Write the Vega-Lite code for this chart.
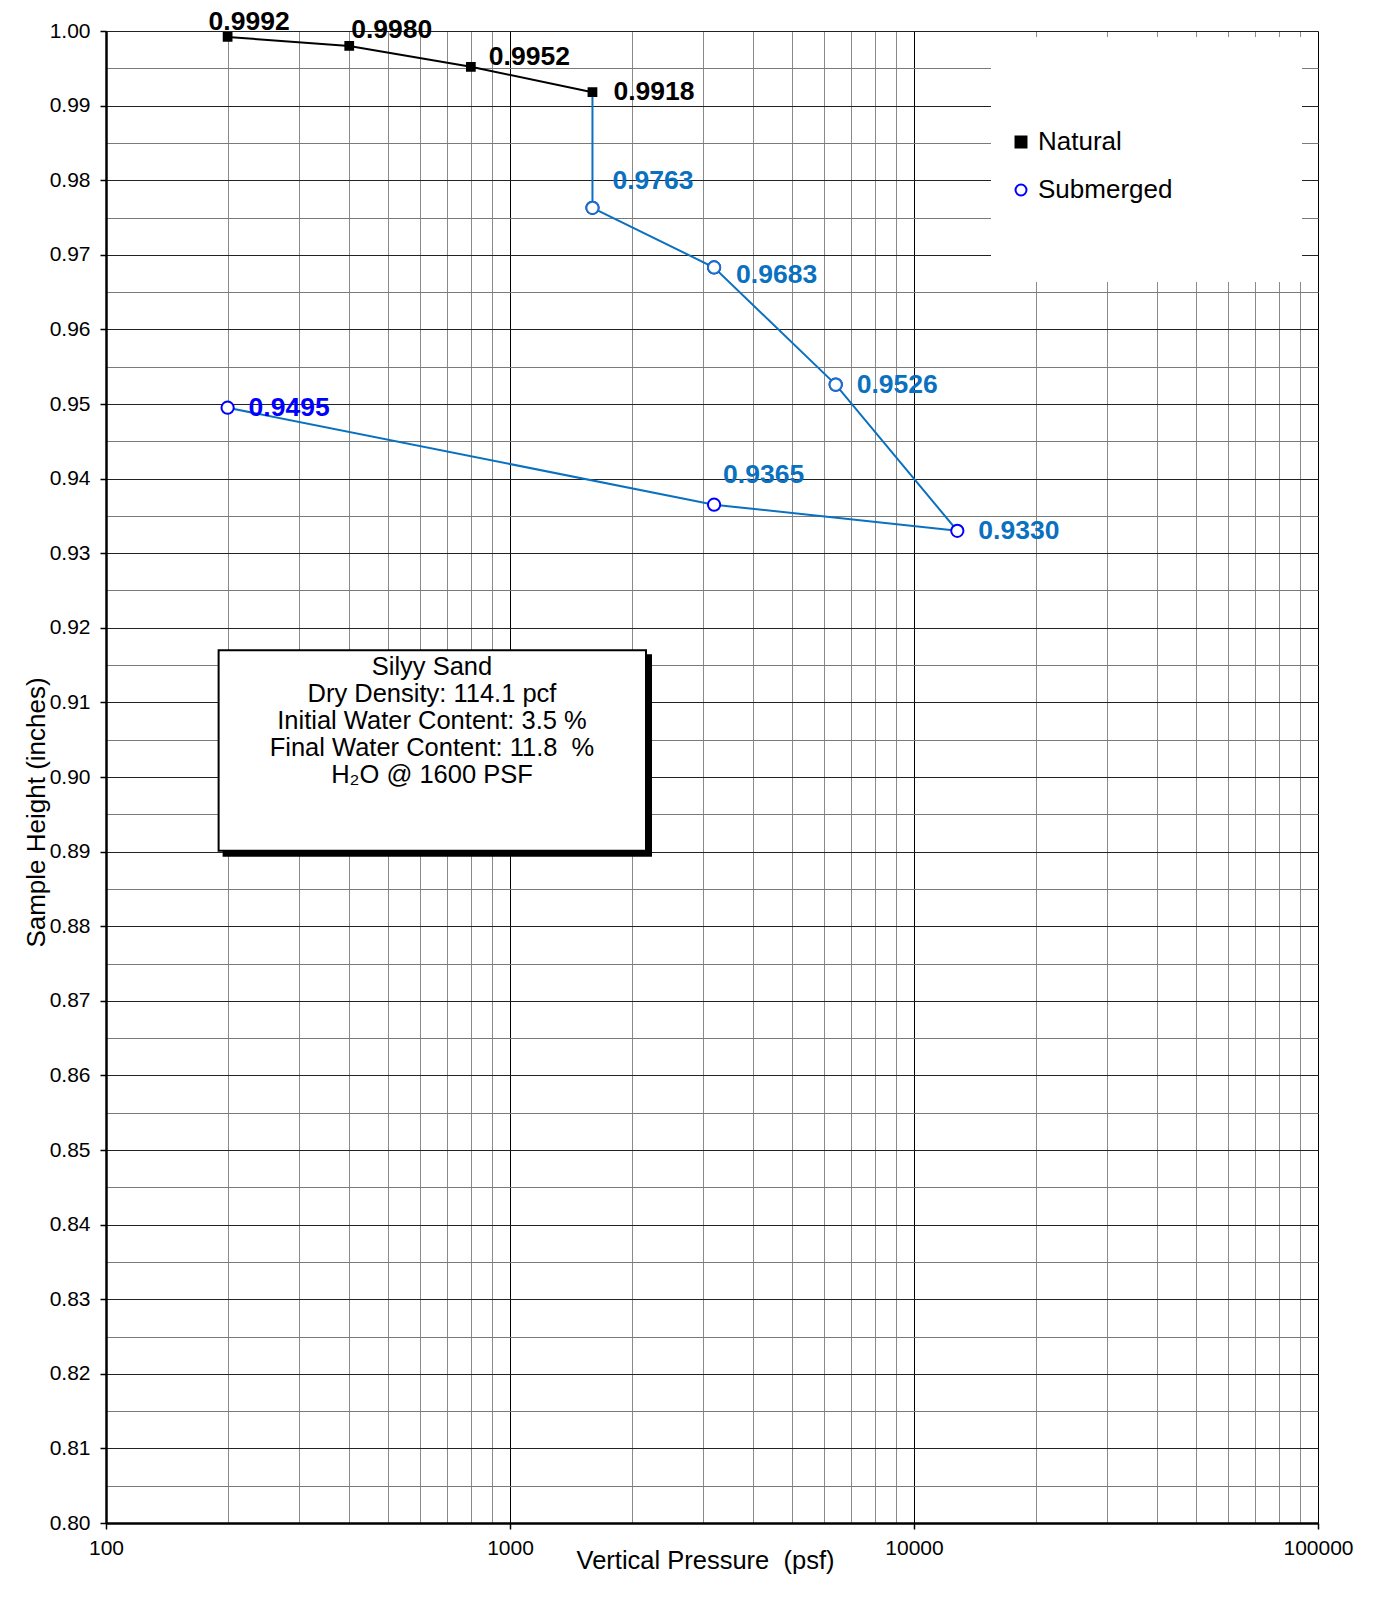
{
  "$schema": "https://vega.github.io/schema/vega-lite/v6.json",
  "width": 1212,
  "height": 1492,
  "autosize": {"type": "none"},
  "padding": {"left": 106, "top": 31, "right": 56, "bottom": 85},
  "background": "white",
  "config": {
    "view": {"stroke": null},
    "font": "Liberation Sans",
    "legend": {
      "orient": "none",
      "legendX": 902,
      "legendY": 98,
      "labelFontSize": 26,
      "labelColor": "black",
      "labelFont": "Liberation Sans",
      "symbolSize": 120,
      "symbolStrokeWidth": 2,
      "labelOffset": 4,
      "rowPadding": 22,
      "padding": 0
    }
  },
  "datasets": {
    "boxes": [
      {"box": "legend", "p_from": 15508, "p_to": 91300, "h_from": 0.96635, "h_to": 0.9992},
      {"box": "note", "p_from": 190, "p_to": 2171, "h_from": 0.8901, "h_to": 0.917}
    ],
    "note": [
      {"p": 641, "h": 0.9147, "lines": ["Silyy Sand", "Dry Density: 114.1 pcf", "Initial Water Content: 3.5 %", "Final Water Content: 11.8 \u00a0%", "H₂O @ 1600 PSF"]}
    ]
  },
  "data": {
    "values": [
      {"pressure": 200, "height": 0.9992, "series": "Natural", "step": 1},
      {"pressure": 400, "height": 0.9980, "series": "Natural", "step": 2},
      {"pressure": 800, "height": 0.9952, "series": "Natural", "step": 3},
      {"pressure": 1600, "height": 0.9918, "series": "Natural", "step": 4},
      {"pressure": 1600, "height": 0.9763, "series": "Submerged", "step": 5},
      {"pressure": 3200, "height": 0.9683, "series": "Submerged", "step": 6},
      {"pressure": 6400, "height": 0.9526, "series": "Submerged", "step": 7},
      {"pressure": 12800, "height": 0.9330, "series": "Submerged", "step": 8},
      {"pressure": 3200, "height": 0.9365, "series": "Submerged", "step": 9},
      {"pressure": 200, "height": 0.9495, "series": "Submerged", "step": 10}
    ]
  },
  "encoding": {
    "x": {
      "field": "pressure",
      "type": "quantitative",
      "scale": {"type": "log", "domain": [100, 100000], "nice": false},
      "axis": {
        "title": "Vertical Pressure \u00a0(psf)",
        "values": [100, 200, 300, 400, 500, 600, 700, 800, 900, 1000, 2000, 3000, 4000, 5000, 6000, 7000, 8000, 9000, 10000, 20000, 30000, 40000, 50000, 60000, 70000, 80000, 90000, 100000],
        "labelExpr": "(datum.value == 100 || datum.value == 1000 || datum.value == 10000 || datum.value == 100000) ? '' + datum.value : ''",
        "labelFlush": false,
        "labelOverlap": false,
        "labelBound": false,
        "labelFontSize": 21,
        "labelColor": "black",
        "labelPadding": 8,
        "tickSize": 6,
        "tickColor": "black",
        "tickWidth": 1.5,
        "tickOpacity": {"condition": {"test": "datum.value == 100 || datum.value == 1000 || datum.value == 10000 || datum.value == 100000", "value": 1}, "value": 0},
        "grid": true,
        "gridColor": {"condition": {"test": "datum.value == 100 || datum.value == 1000 || datum.value == 10000 || datum.value == 100000", "value": "#000000"}, "value": "#8a8a8a"},
        "gridWidth": 1,
        "gridOpacity": 1,
        "domainColor": "black",
        "domainWidth": 2.5,
        "titleFontSize": 25.5,
        "titleFontWeight": "normal",
        "titleColor": "black",
        "titleX": 599,
        "titleY": 37,
        "titleBaseline": "middle",
        "titleAlign": "center"
      }
    },
    "y": {
      "field": "height",
      "type": "quantitative",
      "scale": {"domain": [0.8, 1.0], "nice": false, "zero": false},
      "axis": {
        "title": "Sample Height (inches)",
        "values": [0.8, 0.805, 0.81, 0.815, 0.82, 0.825, 0.83, 0.835, 0.84, 0.845, 0.85, 0.855, 0.86, 0.865, 0.87, 0.875, 0.88, 0.885, 0.89, 0.895, 0.9, 0.905, 0.91, 0.915, 0.92, 0.925, 0.93, 0.935, 0.94, 0.945, 0.95, 0.955, 0.96, 0.965, 0.97, 0.975, 0.98, 0.985, 0.99, 0.995, 1.0],
        "labelExpr": "abs(datum.value * 100 - round(datum.value * 100)) < 0.001 ? format(datum.value, '.2f') : ''",
        "labelOverlap": false,
        "labelBound": false,
        "labelFlush": false,
        "labelFontSize": 21,
        "labelColor": "black",
        "labelPadding": 10,
        "tickSize": 6,
        "tickColor": "black",
        "tickWidth": 1.5,
        "tickOpacity": {"condition": {"test": "abs(datum.value * 100 - round(datum.value * 100)) < 0.001", "value": 1}, "value": 0},
        "grid": true,
        "gridColor": {"condition": {"test": "abs(datum.value * 100 - round(datum.value * 100)) < 0.001", "value": "#222222"}, "value": "#7a7a7a"},
        "gridWidth": 1,
        "gridOpacity": 1,
        "domainColor": "black",
        "domainWidth": 2.5,
        "titleFontSize": 26,
        "titleFontWeight": "normal",
        "titleColor": "black",
        "titleX": -70,
        "titleY": 781,
        "titleAngle": -90,
        "titleBaseline": "middle",
        "titleAlign": "center"
      }
    }
  },
  "layer": [
    {
      "data": {"name": "boxes"},
      "transform": [{"filter": "datum.box == 'legend'"}],
      "mark": {"type": "rect", "fill": "white", "strokeWidth": 0},
      "encoding": {
        "x": {"field": "p_from", "type": "quantitative"},
        "x2": {"field": "p_to"},
        "y": {"field": "h_from", "type": "quantitative"},
        "y2": {"field": "h_to"}
      }
    },
    {
      "transform": [{"filter": "datum.series == 'Natural'"}],
      "mark": {"type": "line", "color": "black", "strokeWidth": 2},
      "encoding": {"order": {"field": "step", "type": "quantitative"}}
    },
    {
      "transform": [{"filter": "datum.series == 'Submerged' || datum.step == 4"}],
      "mark": {"type": "line", "color": "#0a70c0", "strokeWidth": 2},
      "encoding": {"order": {"field": "step", "type": "quantitative"}}
    },
    {
      "mark": {"type": "point", "filled": false, "strokeWidth": 2, "opacity": 1},
      "encoding": {
        "shape": {"field": "series", "type": "nominal", "scale": {"domain": ["Natural", "Submerged"], "range": ["square", "circle"]}, "legend": {"title": null}},
        "fill": {"field": "series", "type": "nominal", "scale": {"domain": ["Natural", "Submerged"], "range": ["black", "white"]}, "legend": {"title": null}},
        "stroke": {"field": "series", "type": "nominal", "scale": {"domain": ["Natural", "Submerged"], "range": ["black", "#0000ff"]}, "legend": {"title": null}},
        "size": {"condition": {"test": "datum.series == 'Natural'", "value": 60}, "value": 150}
      }
    },
    {
      "transform": [{"filter": "datum.step >= 5 && datum.step <= 7"}],
      "mark": {"type": "point", "shape": "circle", "filled": false, "fill": "white", "stroke": "#1a70c8", "strokeWidth": 2, "size": 150, "opacity": 1}
    },
    {
      "transform": [{"filter": "datum.step == 4 || datum.step == 7 || datum.step == 8 || datum.step == 10"}],
      "mark": {"type": "text", "align": "left", "baseline": "middle", "dx": 21, "dy": 0, "fontSize": 26.5, "fontWeight": "bold"},
      "encoding": {
        "text": {"field": "height", "type": "quantitative", "format": ".4f"},
        "color": {"condition": [{"test": "datum.series == 'Natural'", "value": "black"}, {"test": "datum.step == 10", "value": "#0000ff"}], "value": "#0a70c0"}
      }
    },
    {
      "transform": [{"filter": "datum.step == 1"}],
      "mark": {"type": "text", "align": "left", "baseline": "middle", "dx": -19, "dy": -15, "fontSize": 26.5, "fontWeight": "bold", "color": "black"},
      "encoding": {"text": {"field": "height", "type": "quantitative", "format": ".4f"}}
    },
    {
      "transform": [{"filter": "datum.step == 2"}],
      "mark": {"type": "text", "align": "left", "baseline": "middle", "dx": 2, "dy": -16, "fontSize": 26.5, "fontWeight": "bold", "color": "black"},
      "encoding": {"text": {"field": "height", "type": "quantitative", "format": ".4f"}}
    },
    {
      "transform": [{"filter": "datum.step == 3"}],
      "mark": {"type": "text", "align": "left", "baseline": "middle", "dx": 18, "dy": -10, "fontSize": 26.5, "fontWeight": "bold", "color": "black"},
      "encoding": {"text": {"field": "height", "type": "quantitative", "format": ".4f"}}
    },
    {
      "transform": [{"filter": "datum.step == 5"}],
      "mark": {"type": "text", "align": "left", "baseline": "middle", "dx": 20, "dy": -27, "fontSize": 26.5, "fontWeight": "bold", "color": "#0a70c0"},
      "encoding": {"text": {"field": "height", "type": "quantitative", "format": ".4f"}}
    },
    {
      "transform": [{"filter": "datum.step == 6"}],
      "mark": {"type": "text", "align": "left", "baseline": "middle", "dx": 22, "dy": 8, "fontSize": 26.5, "fontWeight": "bold", "color": "#0a70c0"},
      "encoding": {"text": {"field": "height", "type": "quantitative", "format": ".4f"}}
    },
    {
      "transform": [{"filter": "datum.step == 9"}],
      "mark": {"type": "text", "align": "left", "baseline": "middle", "dx": 9, "dy": -30, "fontSize": 26.5, "fontWeight": "bold", "color": "#0a70c0"},
      "encoding": {"text": {"field": "height", "type": "quantitative", "format": ".4f"}}
    },
    {
      "data": {"name": "boxes"},
      "transform": [{"filter": "datum.box == 'note'"}],
      "mark": {"type": "rect", "fill": "black", "stroke": "black", "strokeWidth": 2, "xOffset": 5, "x2Offset": 5, "yOffset": 5, "y2Offset": 5},
      "encoding": {
        "x": {"field": "p_from", "type": "quantitative"},
        "x2": {"field": "p_to"},
        "y": {"field": "h_from", "type": "quantitative"},
        "y2": {"field": "h_to"}
      }
    },
    {
      "data": {"name": "boxes"},
      "transform": [{"filter": "datum.box == 'note'"}],
      "mark": {"type": "rect", "fill": "white", "stroke": "black", "strokeWidth": 2},
      "encoding": {
        "x": {"field": "p_from", "type": "quantitative"},
        "x2": {"field": "p_to"},
        "y": {"field": "h_from", "type": "quantitative"},
        "y2": {"field": "h_to"}
      }
    },
    {
      "data": {"name": "note"},
      "mark": {"type": "text", "align": "center", "baseline": "middle", "fontSize": 25.5, "lineHeight": 27, "color": "black"},
      "encoding": {
        "x": {"field": "p", "type": "quantitative"},
        "y": {"field": "h", "type": "quantitative"},
        "text": {"field": "lines"}
      }
    }
  ]
}
